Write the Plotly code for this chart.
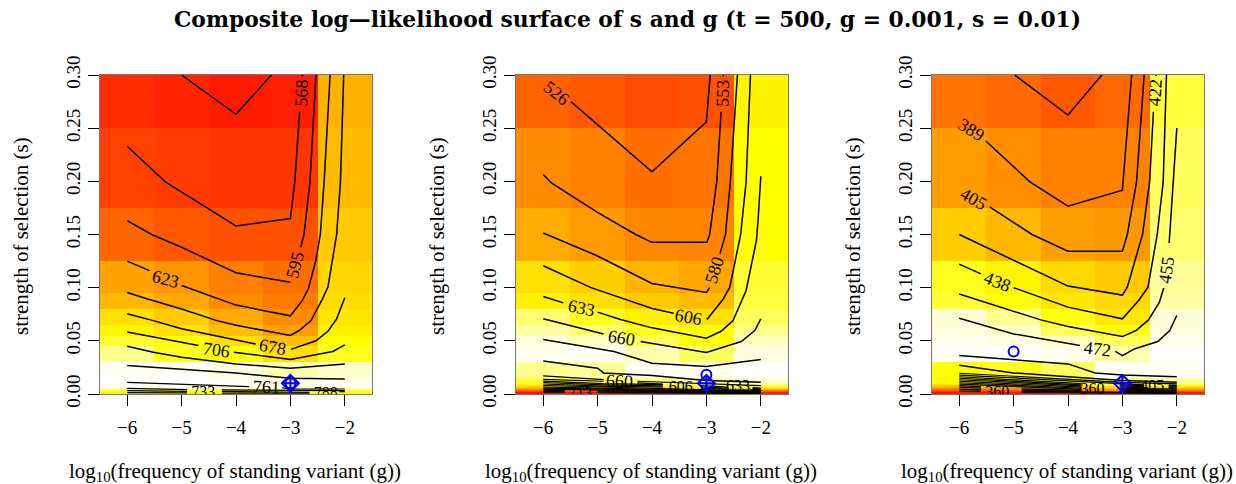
import plotly.graph_objects as go

TITLE = "Composite log\u2014likelihood surface of s and g (t = 500, g = 0.001, s = 0.01)"
XLABEL = "log<sub>10</sub>(frequency of standing variant (g))"
YLABEL = "strength of selection (s)"
x_ticks = [-6, -5, -4, -3, -2]
x_tick_text = ["\u22126", "\u22125", "\u22124", "\u22123", "\u22122"]
y_ticks = [0, 0.05, 0.10, 0.15, 0.20, 0.25, 0.30]
y_tick_text = ["0.00", "0.05", "0.10", "0.15", "0.20", "0.25", "0.30"]

x_edges = [-6.5, -5.5, -4.5, -3.5, -2.5, -1.5]
s_edges = [0, .0015, .0025, .0035, .0045, .0055, .0065, .0075, .0085, .0095,
           .015, .03, .045, .055, .065, .08, .095, .125, .175, .25, .30]

# heat index per cell, bottom row first: 0 red, 75 yellow, 100 white
p1_z = [
    [73, 73, 74, 75, 75], [76, 76, 77, 78, 78], [80, 80, 81, 82, 82], [88, 88, 88, 88, 88],
    [94, 94, 94, 94, 94], [97, 97, 97, 97, 97], [99, 99, 99, 98, 99], [99, 99, 99, 98, 99],
    [100, 100, 99, 98, 99], [100, 100, 99, 97, 98], [99, 99, 97, 92, 95],
    [89, 78, 75, 66, 78], [80, 75, 66, 56, 75], [72, 66, 56, 47, 71], [66, 60, 50, 41, 68],
    [54, 49, 41, 36, 65], [48, 44, 37, 33, 63], [30, 26, 24, 24, 59], [19, 18, 16, 16, 55],
    [13, 11, 8, 9, 52],
]
p2_z = [
    [5, 6, 8, 10, 8], [18, 20, 24, 28, 24], [30, 32, 36, 42, 38], [40, 44, 48, 54, 52],
    [50, 52, 56, 62, 64], [58, 60, 64, 70, 72], [64, 68, 72, 76, 78], [68, 72, 76, 82, 84],
    [74, 76, 80, 86, 90], [80, 82, 88, 92, 95], [89, 90, 99, 98, 100],
    [98, 99, 92, 84, 97], [97, 94, 84, 75, 94], [91, 86, 78, 75, 89], [86, 78, 71, 66, 84],
    [71, 66, 59, 55, 81], [66, 61, 53, 49, 80], [50, 46, 40, 39, 75], [41, 38, 33, 34, 75],
    [29, 26, 22, 24, 72],
]
p3_z = [
    [6, 6, 8, 10, 8], [16, 18, 22, 26, 24], [26, 28, 32, 38, 36], [34, 36, 42, 48, 46],
    [42, 44, 50, 56, 56], [50, 52, 56, 62, 64], [56, 58, 62, 68, 70], [62, 64, 68, 74, 76],
    [68, 70, 74, 80, 82], [74, 75, 78, 85, 90], [75, 78, 84, 99, 99],
    [99, 100, 98, 92, 100], [98, 97, 94, 84, 98], [97, 95, 84, 76, 97], [96, 89, 76, 68, 96],
    [80, 76, 68, 64, 91], [78, 72, 64, 59, 90], [60, 54, 47, 45, 86], [46, 42, 38, 38, 84],
    [34, 31, 26, 31, 81],
]

# contour polylines (None = break where a label sits)
p1_lines_x = [
    [-5.0, -4, -3.35],
    [-6, -5.30, -4, -3, -2.92, -2.83, None, -2.78, -2.78],
    [-6, -5.55, -5, -4, -3, None, -2.81, -2.75, -2.64, -2.53],
    [-6, -5.59, None, -5, -4, -3, -2.78, -2.67, -2.53, -2.45, -2.38, -2.27],
    [-6, -5.64, -5, -4.35, -4, -3, -2.84, -2.62, -2.41, -2.31, -2.15, -2.08, -2.02],
    [-6, -5.52, -5, -4, -3.64, None, -2.99, -2.53, -2.31, -2.15, -2],
    [-6, -5, -4.69, None, -4.04, -3, -2.22, -2],
    [-6, -5.52, -5, -4, -3, -2],
    [-6, -4, -3, -2],
    [-6, -3.76, None, -3.15, -3, -2],
    [-6, -4.9, None, -4.26, -2],
    [-6, -4.9, None, -4.26, -2.65, None, -2.1, -2],
    [-6, -4.9, None, -4.26, -2.65],
]
p1_lines_s = [
    [.30, .263, .30],
    [.233, .1995, .158, .165, .1995, .2655, None, .299, .30],
    [.163, .15, .138, .114, .105, None, .138, .15, .1995, .30],
    [.125, .116, None, .102, .0836, .0735, .088, .099, .126, .15, .1995, .30],
    [.0955, .0895, .080, .069, .0647, .055, .0597, .069, .0895, .1005, .15, .1995, .30],
    [.0754, .069, .0613, .0512, .047, None, .042, .050, .059, .0707, .0905],
    [.0584, .0490, .0456, None, .0393, .0324, .040, .0462],
    [.045, .0393, .0346, .0283, .0242, .0283],
    [.0267, .0198, .0148, .0141],
    [.011, .0069, None, .0057, .0047, .0047],
    [.0053, .0041, None, .0038, .0031],
    [.0031, .0025, None, .0024, .0016, None, .0022, .0022],
    [.0013, .001, None, .0008, .0007],
]
p2_lines_x = [
    [-5.49, -4, -3, -2.93],
    [-6, -5.85, -5.01, -4.3, -4, -2.99, -2.94, -2.81, -2.73, None, -2.69, -2.69],
    [-6, -5.01, -4, -3, -2.94, None, -2.75, -2.65, -2.56, -2.43],
    [-6, -5.12, -4, -3.6, None, -2.99, -2.7, -2.57, -2.37, -2.27, -2.19],
    [-6, -5.63, None, -5, -4.58, -4, -3, -2.73, -2.51, -2.27, -2.08, -2.05, -2],
    [-6, -4.89, None, -4.21, -3, -2.36, -2.11, -2],
    [-6, -4.7, -4, -3, -2],
    [-6, -5, -4.89, -4, -3, -2],
    [-6, -4.89, None, -4.27, -3, -2],
    [-6, -4.89, None, -4.27, -3.8, None, -3.1, -2.6, None, -2.15, -2],
    [-6, -4.9, -3.8, None, -3.1, -2.6, None, -2.15, -2],
    [-6, -4.9, -3.8, None, -3.1, -2.6, None, -2.15, -2],
    [-6, -4.9, -3.8, None, -3.1, -2.6, None, -2.15, -2],
    [-6, -4, -3, -2], [-6, -4, -3, -2], [-6, -4, -3, -2], [-6, -4, -3, -2],
    [-6, -5.6, None, -5.0, -4, -3, -2],
    [-6, -5.6, None, -5.0, -4, -3, -2],
    [-6, -5.6, None, -5.0, -4, -3, -2],
]
p2_lines_s = [
    [.275, .209, .256, .30],
    [.2064, .1985, .171, .15, .1426, .1426, .15, .1995, .2655, None, .299, .30],
    [.1514, .130, .104, .0955, .10, None, .132, .15, .1995, .30],
    [.1206, .10, .0804, .076, None, .07, .0886, .1005, .15, .1995, .30],
    [.0917, .0857, None, .077, .07, .0622, .0525, .059, .069, .0974, .1445, .1634, .2048],
    [.0707, .0565, None, .0493, .039, .0493, .0597, .0707],
    [.0512, .040, .0289, .0258, .0324],
    [.0311, .0242, .0198, .0173, .0126, .011],
    [.017, .0135, None, .012, .0094, .0079],
    [.0137, .0120, None, .0105, .0092, .0078, .0072, None, .0068, .0065],
    [.0122, .0098, .0088, None, .0078, .0066, None, .0060, .0056],
    [.0108, .0086, .0076, None, .0066, .0056, None, .0050, .0048],
    [.0094, .0074, .0064, None, .0054, .0046, None, .0044, .0042],
    [.0080, .0052, .0040, .0036], [.0066, .0044, .0034, .0030],
    [.0056, .0036, .0028, .0025], [.0046, .0029, .0023, .0020],
    [.0036, .0032, None, .0028, .0023, .0018, .0015],
    [.0026, .0023, None, .0020, .0016, .0012, .0010],
    [.0016, .0014, None, .0012, .0009, .0006, .0005],
]
p3_lines_x = [
    [-4.98, -4, -3.38],
    [-5.51, -4.7, -4, -3, -2.83],
    [-5.44, -4.66, -4, -3, -2.91, -2.74, -2.6],
    [-6, -4.85, -4, -3, -2.91, -2.63, -2.5, -2.43, None, -2.38, -2.38],
    [-6, -5.6, None, -5, -4, -3, -2.69, -2.53, -2.36, -2.25, -2.19],
    [-6, -5, -4.5, -4, -3, -2.75, -2.52, -2.32, -2.24, None, -2.14, -2.07, -2],
    [-6, -5, -3.78, None, -3.13, -3, -2.78, -2.35, -2.13, -2],
    [-6, -5, -4, -3.5, -3, -2],
    [-6, -5, -4, -3, -2],
    [-6, -4, -3, -2],
    [-6, -4, -3, -2.6, None, -2.15, -2],
    [-6, -4, -3.75, None, -3.05, -2.6, None, -2.15, -2],
    [-6, -4, -3.75, None, -3.05, -2.6, None, -2.15, -2],
    [-6, -4, -3.75, None, -3.05, -2.6, None, -2.15, -2],
    [-6, -4, -3.75, None, -3.05, -2],
    [-6, -4, -3.75, None, -3.05, -2],
    [-6, -4, -3.75, None, -3.05, -2],
    [-6, -5.6, None, -4.85, -3.75, None, -3.05, -2],
    [-6, -5.6, None, -4.85, -3.75, None, -3.05, -2],
    [-6, -5.6, None, -4.85, -3, -2],
    [-6, -5.6, None, -4.85, -3, -2],
]
p3_lines_s = [
    [.30, .2623, .30],
    [.238, .1995, .1766, .1916, .30],
    [.176, .15, .1342, .1342, .15, .1995, .30],
    [.150, .1225, .1015, .093, .1005, .15, .1995, .2655, None, .299, .30],
    [.1222, .113, None, .10, .0817, .0707, .0886, .1005, .15, .1995, .30],
    [.094, .078, .0697, .0635, .054, .0597, .0697, .0864, .0996, None, .142, .1995, .25],
    [.0713, .0565, .0456, None, .04, .0361, .0424, .0493, .0597, .0738],
    [.0361, .0324, .0283, .0198, .0179, .0163],
    [.027, .0198, .0163, .0126, .011],
    [.0195, .0135, .0110, .0095],
    [.0178, .0120, .0098, .0086, None, .0083, .0082],
    [.0162, .0108, .0098, None, .0086, .0078, None, .0074, .0073],
    [.0148, .0096, .0086, None, .0076, .0068, None, .0065, .0064],
    [.0134, .0084, .0076, None, .0066, .0058, None, .0056, .0055],
    [.0120, .0072, .0064, None, .0054, .0046],
    [.0106, .0061, .0054, None, .0045, .0037],
    [.0092, .0050, .0044, None, .0036, .0028],
    [.0078, .0070, None, .0048, .0034, None, .0028, .0020],
    [.0064, .0056, None, .0036, .0026, None, .0020, .0014],
    [.0045, .0039, None, .0024, .0015, .0010],
    [.0028, .0024, None, .0014, .0008, .0006],
]

# contour labels: text, x, s, angle
p1_label_text = ["568", "595", "623", "678", "706", "761"]
p1_label_x = [-2.795, -2.91, -5.3, -3.33, -4.36, -3.44]
p1_label_s = [.283, .121, .108, .0440, .0418, .0063]
p1_label_angle = [-88, -76, 15, 10, 8, 2]
p1_clip_text = ["733", "788"]
p1_clip_x = [-4.6, -2.35]
p1_clip_s = [.0012, .0004]

p2_label_text = ["526", "553", "580", "606", "633", "660", "660"]
p2_label_x = [-5.76, -2.70, -2.85, -3.33, -5.3, -4.56, -4.59]
p2_label_s = [.283, .283, .1166, .0728, .0811, .0528, .0118]
p2_label_angle = [38, -88, -72, 10, 12, 9, 2]
p2_clip_text = ["606", "633", "713"]
p2_clip_x = [-3.47, -2.42, -5.32]
p2_clip_s = [.0057, .0063, .0004]

p3_label_text = ["389", "405", "422", "438", "455", "472"]
p3_label_x = [-5.77, -5.73, -2.40, -5.29, -2.19, -3.45]
p3_label_s = [.2487, .1835, .283, .1058, .1165, .0424]
p3_label_angle = [32, 30, -86, 22, -82, 7]
p3_clip_text = ["360", "360", "405"]
p3_clip_x = [-5.3, -3.55, -2.45]
p3_clip_s = [.0012, .0040, .0065]

# true value (circle) and estimate (diamond)
p1_truth = ([-3], [.01])
p2_truth = ([-3], [.018])
p3_truth = ([-5], [.04])
estimate = ([-3], [.01])

W, H = 1236, 484
FONT = "Liberation Serif"
panels = [
    (100, 372, p1_z, p1_lines_x, p1_lines_s, p1_label_text, p1_label_x, p1_label_s, p1_label_angle, p1_clip_text, p1_clip_x, p1_clip_s, p1_truth),
    (516, 788, p2_z, p2_lines_x, p2_lines_s, p2_label_text, p2_label_x, p2_label_s, p2_label_angle, p2_clip_text, p2_clip_x, p2_clip_s, p2_truth),
    (932, 1204, p3_z, p3_lines_x, p3_lines_s, p3_label_text, p3_label_x, p3_label_s, p3_label_angle, p3_clip_text, p3_clip_x, p3_clip_s, p3_truth),
]
TOP, BOTTOM = 75, 394

fig = go.Figure()
annotations = []
for i, (l, r, z, lx, ls, lt, tx, ts, ta, ct, cx, cs, truth) in enumerate(panels):
    n = "" if i == 0 else str(i + 1)
    xa, ya = f"x{n}", f"y{n}"
    fig.add_trace(go.Heatmap(x=x_edges, y=s_edges, z=z, zmin=0, zmax=100, showscale=False,
                             colorscale=[[0, "#FF0000"], [.75, "#FFFF00"], [1, "#FFFFFF"]],
                             xaxis=xa, yaxis=ya, hoverinfo="skip"))
    # labels in the dense band are drawn first, so later contours cross them as in the reference
    fig.add_trace(go.Scatter(x=cx, y=cs, text=ct, mode="text", xaxis=xa, yaxis=ya, cliponaxis=True,
                             textposition="middle center", showlegend=False, hoverinfo="skip",
                             textfont=dict(family=FONT, size=16, color="black")))
    for xs, ss in zip(lx, ls):
        width = 1.2 if ss[0] < .02 else 1.5
        fig.add_trace(go.Scatter(x=xs, y=ss, mode="lines", xaxis=xa, yaxis=ya, connectgaps=False,
                                 line=dict(color="black", width=width), showlegend=False, hoverinfo="skip"))
    fig.add_trace(go.Scatter(x=truth[0], y=truth[1], mode="markers", xaxis=xa, yaxis=ya, showlegend=False, hoverinfo="skip",
                             marker=dict(symbol="circle-open", size=10, color="#0000FF", line=dict(width=2, color="#0000FF"))))
    fig.add_trace(go.Scatter(x=estimate[0], y=estimate[1], mode="markers", xaxis=xa, yaxis=ya, showlegend=False, hoverinfo="skip",
                             marker=dict(symbol="diamond-cross-open", size=13, color="#0000FF", line=dict(width=2, color="#0000FF"))))
    for t, x, s, a in zip(lt, tx, ts, ta):
        annotations.append(dict(text=t, x=x, y=s, xref=xa, yref=ya, textangle=a, showarrow=False,
                                xanchor="center", yanchor="middle", font=dict(family=FONT, size=18, color="black")))
    common = dict(ticks="outside", ticklen=11, tickwidth=1.2, tickcolor="black", showline=True, mirror=True,
                  linecolor="#777777", linewidth=1, showgrid=False, zeroline=False, automargin=False,
                  tickfont=dict(family=FONT, size=19, color="black"))
    fig.update_layout({
        f"xaxis{n}": dict(domain=[l / W, r / W], range=[-6.5, -1.5], tickvals=x_ticks, ticktext=x_tick_text, anchor=ya,
                          ticklabelstandoff=5, **common),
        f"yaxis{n}": dict(domain=[1 - BOTTOM / H, 1 - TOP / H], range=[0, .30], tickvals=y_ticks, ticktext=y_tick_text, anchor=xa,
                          tickangle=-90, **common),
    })
    annotations.append(dict(text=XLABEL, x=(l + 135) / W, y=1 - 472 / H, xref="paper", yref="paper", showarrow=False,
                            xanchor="center", yanchor="middle", font=dict(family=FONT, size=21, color="black")))
    annotations.append(dict(text=YLABEL, x=(l - 79) / W, y=1 - 236 / H, xref="paper", yref="paper", showarrow=False, textangle=-90,
                            xanchor="center", yanchor="middle", font=dict(family=FONT, size=21, color="black")))

annotations.append(dict(text=f"<b>{TITLE}</b>", x=627.5 / W, y=1 - 19 / H, xref="paper", yref="paper", showarrow=False,
                        xanchor="center", yanchor="middle", font=dict(family="DejaVu Serif", size=21.8, color="black")))
fig.update_layout(width=W, height=H, margin=dict(l=0, r=0, t=0, b=0), paper_bgcolor="white", plot_bgcolor="white",
                  annotations=annotations, showlegend=False)
fig.write_html("out.html", config={"displayModeBar": False}, post_script="document.body.style.margin='0';")
